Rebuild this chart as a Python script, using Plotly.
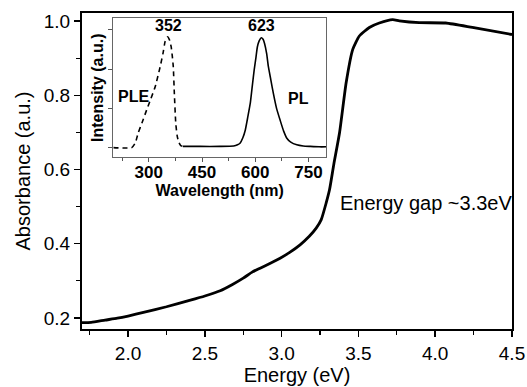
import plotly.graph_objects as go

# Main absorbance spectrum
energy_ev = [1.70, 1.76, 1.85, 1.93, 2.00, 2.10, 2.25, 2.40, 2.50, 2.60, 2.68, 2.75, 2.81,
             2.86, 2.92, 2.99, 3.05, 3.12, 3.18, 3.225, 3.258, 3.29, 3.312, 3.34, 3.377,
             3.42, 3.463, 3.506, 3.571, 3.636, 3.723, 3.766, 3.896, 4.069, 4.242, 4.50]
absorbance = [0.187, 0.188, 0.194, 0.199, 0.205, 0.215, 0.230, 0.247, 0.259, 0.273, 0.290,
              0.307, 0.324, 0.334, 0.346, 0.361, 0.376, 0.397, 0.420, 0.442, 0.465, 0.510,
              0.546, 0.615, 0.699, 0.834, 0.924, 0.960, 0.983, 0.995, 1.004, 1.001, 0.996,
              0.995, 0.983, 0.964]

# Inset: PLE (dashed) and PL (solid)
ple_wavelength = [200, 252, 262, 270, 282, 294, 306, 318, 332, 340, 346, 353, 358, 363, 366,
                  369, 372, 376, 380, 384, 390, 396]
ple_intensity = [0.0, 0.0, 0.12, 0.37, 0.66, 0.96, 1.25, 1.55, 2.06, 2.40, 2.70, 2.82, 2.75,
                 2.57, 2.35, 2.06, 1.38, 0.62, 0.30, 0.15, 0.05, 0.03]
pl_wavelength = [396, 445, 500, 539, 550, 557, 565, 572, 579, 586, 592, 597, 602, 606, 611,
                 617, 622, 626, 632, 637, 644, 651, 660, 670, 680, 689, 700, 717, 735, 755,
                 780, 800]
pl_intensity = [0.03, 0.03, 0.03, 0.04, 0.07, 0.11, 0.25, 0.45, 0.78, 1.13, 1.60, 1.98, 2.30,
                2.57, 2.72, 2.80, 2.76, 2.66, 2.40, 2.06, 1.72, 1.38, 1.00, 0.70, 0.42,
                0.24, 0.14, 0.07, 0.04, 0.03, 0.02, 0.02]

main_xticks = [2.0, 2.5, 3.0, 3.5, 4.0, 4.5]
main_yticks = [0.2, 0.4, 0.6, 0.8, 1.0]
inset_xticks = [300, 450, 600, 750]
inset_yticks = [0, 1, 2, 3]

FONT = "Liberation Sans, Arial, sans-serif"

fig = go.Figure()
fig.add_trace(go.Scatter(x=energy_ev, y=absorbance, mode="lines",
                         line=dict(color="black", width=2.8, shape="spline", smoothing=0.5),
                         xaxis="x", yaxis="y", showlegend=False))
fig.add_trace(go.Scatter(x=ple_wavelength, y=ple_intensity, mode="lines",
                         line=dict(color="black", width=1.6, dash="5px,4px", shape="spline", smoothing=0.5),
                         xaxis="x2", yaxis="y2", showlegend=False))
fig.add_trace(go.Scatter(x=pl_wavelength, y=pl_intensity, mode="lines",
                         line=dict(color="black", width=1.6, shape="spline", smoothing=0.5),
                         xaxis="x2", yaxis="y2", showlegend=False))

fig.update_layout(
    template="none",
    width=527, height=387,
    margin=dict(l=82, r=15, t=13, b=58, autoexpand=False),
    paper_bgcolor="white", plot_bgcolor="white",
    font=dict(family=FONT, color="black"),
    xaxis=dict(
        domain=[0, 1], range=[1.70, 4.5], tickvals=main_xticks,
        ticktext=["%.1f" % v for v in main_xticks], automargin=False,
        ticks="outside", ticklen=6, tickwidth=1.5, tickcolor="black",
        minor=dict(ticks="outside", ticklen=4, tickwidth=1.2, tickcolor="black", dtick=0.25, tick0=1.75, showgrid=False),
        showline=True, linecolor="black", linewidth=2, mirror=True,
        showgrid=False, zeroline=False,
        tickfont=dict(size=19),
        title=dict(text="Energy (eV)", font=dict(size=20), standoff=4),
    ),
    yaxis=dict(
        domain=[0, 1], range=[0.170, 1.022], tickvals=main_yticks,
        ticktext=["%.1f" % v for v in main_yticks], automargin=False,
        ticks="outside", ticklen=6, tickwidth=1.5, tickcolor="black",
        minor=dict(ticks="outside", ticklen=4, tickwidth=1.2, tickcolor="black", dtick=0.1, showgrid=False),
        showline=True, linecolor="black", linewidth=2, mirror=True,
        showgrid=False, zeroline=False,
        tickfont=dict(size=19),
        title=dict(text="Absorbance (a.u.)", font=dict(size=20), standoff=8),
    ),
    xaxis2=dict(
        domain=[0.0728, 0.568], anchor="y2", range=[200, 800], tickvals=inset_xticks,
        ticktext=["<b>%d</b>" % v for v in inset_xticks], automargin=False,
        ticks="outside", ticklen=4, tickwidth=1, tickcolor="#555",
        minor=dict(ticks="outside", ticklen=3, tickwidth=1, tickcolor="#555", dtick=75, tick0=225, showgrid=False),
        showline=True, linecolor="#666", linewidth=1, mirror=True,
        showgrid=False, zeroline=False,
        tickfont=dict(size=17), ticklabelstandoff=-5,
        title=dict(text="<b>Wavelength (nm)</b>", font=dict(size=16), standoff=0),
    ),
    yaxis2=dict(
        domain=[0.543, 0.984], anchor="x2", range=[-0.25, 3.3], tickvals=inset_yticks,
        showticklabels=False, automargin=False,
        ticks="outside", ticklen=4, tickwidth=1, tickcolor="#555",
        showline=True, linecolor="#666", linewidth=1, mirror=True,
        showgrid=False, zeroline=False,
        title=dict(text="<b>Intensity (a.u.)</b>", font=dict(size=16), standoff=0),
    ),
    annotations=[
        dict(x=3.364, y=0.511, xref="x", yref="y", text="Energy gap ~3.3eV", showarrow=False,
             xanchor="left", yanchor="middle", font=dict(size=20)),
        dict(x=355, y=3.12, xref="x2", yref="y2", text="<b>352</b>", showarrow=False,
             xanchor="center", yanchor="middle", font=dict(size=16)),
        dict(x=617, y=3.12, xref="x2", yref="y2", text="<b>623</b>", showarrow=False,
             xanchor="center", yanchor="middle", font=dict(size=16)),
        dict(x=209, y=1.29, xref="x2", yref="y2", text="<b>PLE</b>", showarrow=False,
             xanchor="left", yanchor="middle", font=dict(size=16)),
        dict(x=687, y=1.26, xref="x2", yref="y2", text="<b>PL</b>", showarrow=False,
             xanchor="left", yanchor="middle", font=dict(size=16)),
    ],
)

fig.write_html(
    "out.html",
    config={"displayModeBar": False, "staticPlot": True},
    post_script="document.body.style.margin='0';document.body.style.padding='0';document.body.style.overflow='hidden';",
)
